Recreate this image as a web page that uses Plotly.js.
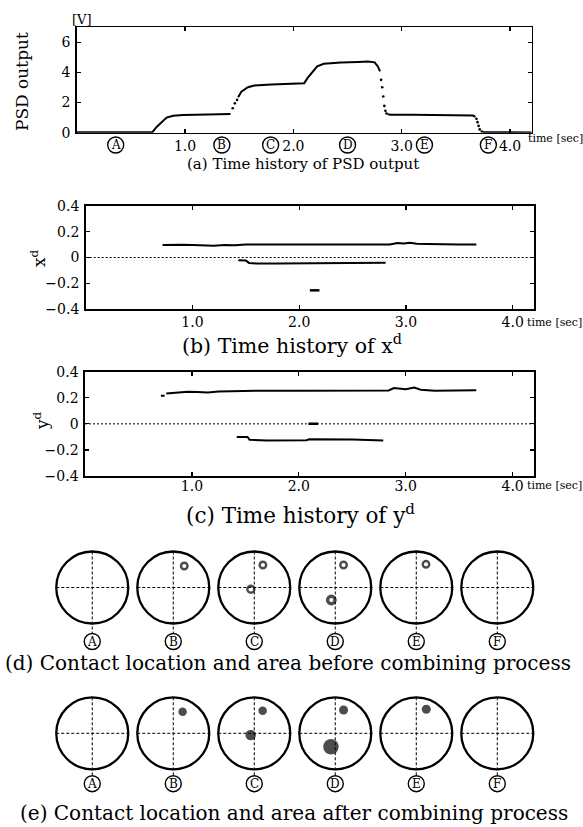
<!DOCTYPE html>
<html>
<head>
<meta charset="utf-8">
<script src="https://cdn.plot.ly/plotly-3.0.1.min.js"></script>
<style>html,body{margin:0;padding:0;background:#fff;}#chart{width:583px;height:827px;}</style>
</head>
<body>
<div id="chart"></div>
<script>
// ---------------- DATA ----------------
// (a) PSD output [V] vs time [sec] : continuous parts (null = gap where only sparse samples exist)
const psdTime  = [0.00, 0.30, 0.66, 0.70, 0.74, 0.78, 0.83, 0.89, 0.98, 1.10, 1.25, 1.42, null, 1.49, 1.52, 1.58, 1.64, 1.80, 1.95, 2.10, 2.13, 2.18, 2.22, 2.28, 2.44, 2.60, 2.69, 2.75, 2.78, 2.80, null, 2.87, 2.90, 3.10, 3.40, 3.60, 3.66, 3.68, null, 3.75, 4.20];
const psdValue = [0.03, 0.03, 0.03, 0.05, 0.40, 0.68, 1.00, 1.13, 1.18, 1.19, 1.21, 1.25, null, 2.35, 2.73, 3.02, 3.14, 3.20, 3.24, 3.29, 3.62, 4.07, 4.40, 4.58, 4.67, 4.70, 4.73, 4.67, 4.40, 4.07, null, 1.22, 1.20, 1.20, 1.19, 1.18, 1.14, 1.05, null, 0.03, 0.02];
// (a) sparse samples during the fast transitions
const psdDotTime  = [1.44, 1.46, 1.48, 2.81, 2.82, 2.83, 2.84, 2.85, 2.86, 3.69, 3.70, 3.71, 3.72, 3.74];
const psdDotValue = [1.62, 1.95, 2.18, 3.51, 3.02, 2.40, 1.78, 1.45, 1.28, 0.92, 0.70, 0.45, 0.22, 0.08];

// (b) x^d vs time
const xdUpperT = [0.72, 0.80, 0.90, 1.00, 1.10, 1.20, 1.30, 1.40, 1.50, 1.80, 2.20, 2.60, 2.85, 2.92, 2.98, 3.04, 3.10, 3.20, 3.35, 3.50, 3.66];
const xdUpperV = [0.098, 0.096, 0.099, 0.097, 0.095, 0.092, 0.097, 0.095, 0.100, 0.100, 0.100, 0.100, 0.101, 0.112, 0.108, 0.115, 0.106, 0.104, 0.100, 0.101, 0.100];
const xdLowerT = [1.43, 1.50, 1.53, 1.60, 1.80, 2.00, 2.10, 2.40, 2.81];
const xdLowerV = [-0.022, -0.024, -0.042, -0.046, -0.047, -0.046, -0.040, -0.040, -0.041];
const xdDashT  = [2.10, 2.19];
const xdDashV  = [-0.255, -0.255];

// (c) y^d vs time
const ydUpperT = [0.71, 0.745, null, 0.76, 0.85, 0.96, 1.05, 1.15, 1.25, 1.43, 1.60, 2.00, 2.40, 2.84, 2.89, 2.95, 3.00, 3.08, 3.14, 3.27, 3.40, 3.55, 3.66];
const ydUpperV = [0.215, 0.215, null, 0.232, 0.240, 0.246, 0.244, 0.240, 0.248, 0.254, 0.254, 0.254, 0.254, 0.256, 0.275, 0.270, 0.266, 0.278, 0.262, 0.254, 0.256, 0.258, 0.258];
const ydLowerT = [1.42, 1.52, 1.54, 1.70, 2.07, 2.10, 2.50, 2.79];
const ydLowerV = [-0.100, -0.100, -0.122, -0.127, -0.125, -0.119, -0.120, -0.127];
const ydDashT  = [2.09, 2.18];
const ydDashV  = [0, 0];

// axis ticks
const timeTicks      = [1, 2, 3, 4];
const timeTickLabels = ['1.0', '2.0', '3.0', '4.0'];
const psdTicks       = [0, 2, 4, 6];
const posTicks       = [-0.4, -0.2, 0, 0.2, 0.4];
const posTickLabels  = ['\u22120.4', '\u22120.2', '0', '0.2', '0.4'];

// snapshots A-F
const snapLabels = ['A', 'B', 'C', 'D', 'E', 'F'];
const snapTimes  = [0.36, 1.34, 1.79, 2.50, 3.21, 3.80];

// (d) contacts before combining (snapshot index, x, y, ring size)
const beforeIdx  = [1, 2, 2, 3, 3, 4];
const beforeX    = [0.122, 0.096, -0.038, 0.092, -0.044, 0.108];
const beforeY    = [0.239, 0.250, -0.020, 0.250, -0.139, 0.258];
const beforeSize = [6.5, 6.5, 7, 6.5, 7.5, 6.5];

// (e) contacts after combining
const afterIdx  = [1, 2, 2, 3, 3, 4];
const afterX    = [0.104, 0.093, -0.040, 0.092, -0.048, 0.111];
const afterY    = [0.240, 0.251, -0.019, 0.259, -0.149, 0.267];
const afterSize = [8.5, 8.5, 10.5, 9, 15.5, 9];

const captions = [
  '(a) Time history of PSD output',
  '(b) Time history of x<sup>d</sup>',
  '(c) Time history of y<sup>d</sup>',
  '(d) Contact location and area before combining process',
  '(e) Contact location and area after combining process'
];

// ---------------- LAYOUT HELPERS ----------------
const W = 583, H = 827;
const px = v => v / W;
const py = v => 1 - v / H;
const SERIF = 'DejaVu Serif, serif';
const SPACING = 0.9;   // distance between snapshot circles
const RAD = 0.4;       // sensor circle radius (same unit as x^d, y^d)

function tf() { return {family: SERIF, size: 14, color: '#000'}; }
function timeAxis(dom, anchor, standoff) {
  return {domain: dom, anchor: anchor, range: [0, 4.2], tickmode: 'array', tickvals: timeTicks, ticktext: timeTickLabels,
    ticks: 'inside', ticklen: 4, tickwidth: 1.2, tickcolor: '#000', mirror: 'ticks', showline: true, linewidth: 1.6, linecolor: '#000',
    showgrid: false, zeroline: false, tickfont: tf(), ticklabelstandoff: standoff, fixedrange: true};
}
function valAxis(dom, anchor, range, tv, tt) {
  return {domain: dom, anchor: anchor, range: range, tickmode: 'array', tickvals: tv, ticktext: tt,
    ticks: 'inside', ticklen: 4, tickwidth: 1.2, tickcolor: '#000', mirror: 'ticks', showline: true, linewidth: 1.6, linecolor: '#000',
    showgrid: false, zeroline: false, tickfont: tf(), ticklabelstandoff: 2, fixedrange: true};
}
function hiddenAxis(dom, anchor, range) {
  return {domain: dom, anchor: anchor, range: range, visible: false, fixedrange: true};
}

const line = {color: '#000', width: 2};
const traces = [
  {x: psdTime, y: psdValue, xaxis: 'x', yaxis: 'y', mode: 'lines', line: line, connectgaps: false},
  {x: psdDotTime, y: psdDotValue, xaxis: 'x', yaxis: 'y', mode: 'markers', marker: {color: '#000', size: 2.6}},
  {x: xdUpperT, y: xdUpperV, xaxis: 'x2', yaxis: 'y2', mode: 'lines', line: line},
  {x: xdLowerT, y: xdLowerV, xaxis: 'x2', yaxis: 'y2', mode: 'lines', line: line},
  {x: xdDashT, y: xdDashV, xaxis: 'x2', yaxis: 'y2', mode: 'lines', line: {color: '#000', width: 2.5}},
  {x: ydUpperT, y: ydUpperV, xaxis: 'x3', yaxis: 'y3', mode: 'lines', line: line, connectgaps: false},
  {x: ydLowerT, y: ydLowerV, xaxis: 'x3', yaxis: 'y3', mode: 'lines', line: line},
  {x: ydDashT, y: ydDashV, xaxis: 'x3', yaxis: 'y3', mode: 'lines', line: {color: '#000', width: 2.5}},
  {x: beforeIdx.map((k, i) => k * SPACING + beforeX[i]), y: beforeY, xaxis: 'x4', yaxis: 'y4', mode: 'markers',
   marker: {symbol: 'circle-open', size: beforeSize, color: '#000', line: {color: '#000', width: [2.4, 2.4, 2.4, 2.4, 3.4, 2.4]}}},
  {x: afterIdx.map((k, i) => k * SPACING + afterX[i]), y: afterY, xaxis: 'x5', yaxis: 'y5', mode: 'markers',
   marker: {symbol: 'circle', size: afterSize, color: '#000', line: {width: 0}}}
];

const shapes = [];
const annotations = [];
const LETTER_R = 8;
function circledLetter(xr, yr, x, y, lab) {
  shapes.push({type: 'circle', xref: xr, yref: yr, xsizemode: 'pixel', ysizemode: 'pixel', xanchor: x, yanchor: y,
    x0: -LETTER_R, x1: LETTER_R, y0: -LETTER_R, y1: LETTER_R, line: {color: '#000', width: 1.4}, fillcolor: '#fff'});
  annotations.push({xref: xr, yref: yr, x: x, y: y, xanchor: 'center', yanchor: 'middle', text: lab, showarrow: false,
    font: {family: SERIF, size: 12, color: '#000'}});
}

// zero lines (b),(c)
['2', '3'].forEach(n => shapes.push({type: 'line', xref: 'x' + n + ' domain', yref: 'y' + n, x0: 0, x1: 1, y0: 0, y1: 0,
  line: {color: '#000', width: 1, dash: '2px,2px'}, layer: 'below'}));

// snapshot circles rows
[['x4', 'y4', -0.60], ['x5', 'y5', -0.56]].forEach(([xr, yr, ly]) => {
  snapLabels.forEach((lab, k) => {
    const c = k * SPACING;
    shapes.push({type: 'circle', xref: xr, yref: yr, x0: c - RAD, x1: c + RAD, y0: -RAD, y1: RAD, line: {color: '#000', width: 2.3}});
    shapes.push({type: 'line', xref: xr, yref: yr, x0: c - RAD, x1: c + RAD, y0: 0, y1: 0, line: {color: '#000', width: 1, dash: '3px,2px'}});
    shapes.push({type: 'line', xref: xr, yref: yr, x0: c, x1: c, y0: RAD, y1: ly + 0.09, line: {color: '#000', width: 1, dash: '3px,2px'}});
    circledLetter(xr, yr, c, ly, lab);
  });
});

// snapshot letters on (a) axis row
snapLabels.forEach((lab, k) => circledLetter('x', 'paper', snapTimes[k], py(145), lab));

// texts
function note(x, y, text, size, extra) {
  annotations.push(Object.assign({xref: 'paper', yref: 'paper', x: px(x), y: py(y), xanchor: 'center', yanchor: 'middle',
    text: text, showarrow: false, font: {family: SERIF, size: size, color: '#000'}}, extra || {}));
}
note(82, 19, '[V]', 13);
note(22, 82, 'PSD output', 17, {textangle: -90});
note(38, 258, 'x<sup>d</sup>', 17, {textangle: -90});
note(41, 421, 'y<sup>d</sup>', 17, {textangle: -90});
note(526, 138, 'time [sec]', 11, {xanchor: 'left'});
note(525, 322, 'time [sec]', 11, {xanchor: 'left'});
note(525, 485, 'time [sec]', 11, {xanchor: 'left'});
note(303, 164, captions[0], 15);
note(292, 344, captions[1], 20.5);
note(300, 514, captions[2], 21.5);
note(288, 663, captions[3], 20);
note(294, 813, captions[4], 20);

const layout = {
  width: W, height: H, margin: {l: 0, r: 0, t: 0, b: 0}, paper_bgcolor: '#fff', plot_bgcolor: 'rgba(0,0,0,0)', showlegend: false,
  font: {family: SERIF, size: 14, color: '#000'},
  xaxis: timeAxis([px(76.7), px(531.7)], 'y', 0),
  yaxis: valAxis([py(132.7), py(27.3)], 'x', [0, 7], psdTicks, psdTicks.map(String)),
  xaxis2: timeAxis([px(85.7), px(534)], 'y2', 0),
  yaxis2: valAxis([py(309), py(206)], 'x2', [-0.4, 0.4], posTicks, posTickLabels),
  xaxis3: timeAxis([px(85), px(534)], 'y3', -3),
  yaxis3: valAxis([py(476), py(371.7)], 'x3', [-0.4, 0.4], posTicks, posTickLabels),
  xaxis4: hiddenAxis([px(10), px(580)], 'y4', [-0.914, 5.419]),
  yaxis4: hiddenAxis([py(655), py(538)], 'x4', [-0.75, 0.55]),
  xaxis5: hiddenAxis([px(10), px(580)], 'y5', [-0.914, 5.419]),
  yaxis5: hiddenAxis([py(800.8), py(683.8)], 'x5', [-0.75, 0.55]),
  shapes: shapes, annotations: annotations
};
Plotly.newPlot('chart', traces, layout, {staticPlot: true, displayModeBar: false});
</script>
</body>
</html>
